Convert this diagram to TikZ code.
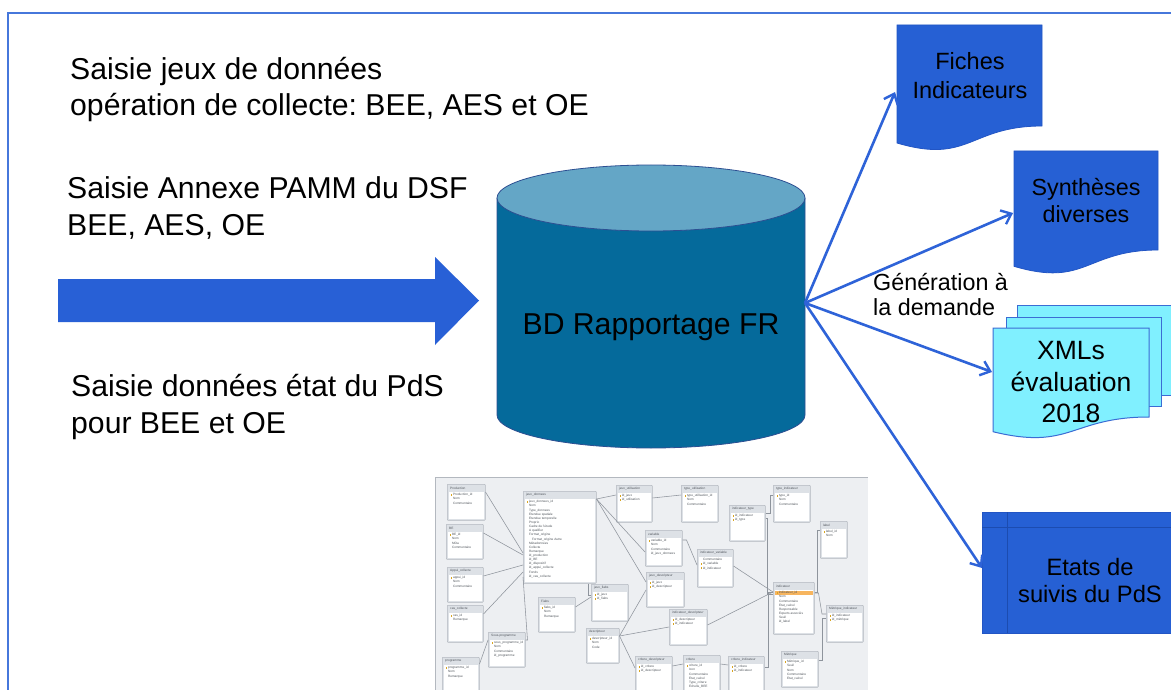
\documentclass[tikz,border=0pt]{standalone}
\usepackage{fontspec}
\setmainfont{Liberation Sans}
\usetikzlibrary{arrows.meta,calc}
\frenchspacing

\definecolor{frameblue}{HTML}{4677DB}
\definecolor{arrowblue}{HTML}{2860D6}
\definecolor{connblue}{HTML}{2E63D8}
\definecolor{docblue}{HTML}{2660D4}
\definecolor{docedge}{HTML}{2255C4}
\definecolor{storeline}{HTML}{1C4CB0}
\definecolor{xmlcyan}{HTML}{80F0FF}
\definecolor{xmledge}{HTML}{3B6CD4}
\definecolor{dbbody}{HTML}{056A9B}
\definecolor{dbtop}{HTML}{64A6C6}
\definecolor{dbedge}{HTML}{2D4F92}
\definecolor{schemabg}{HTML}{EDEFF2}
\definecolor{tabframe}{HTML}{DDE1E6}
\definecolor{tabedge}{HTML}{B3B8BF}
\definecolor{tabtext}{HTML}{50555C}
\definecolor{keyc}{HTML}{D9A520}
\definecolor{hlorange}{HTML}{F7B55E}
\definecolor{relline}{HTML}{8E949C}

\newcommand\bigtxt{\fontsize{30.3}{36.5}\selectfont}
\newcommand\dbf{\fontsize{3.2}{4.15}\selectfont}
\newcommand\pkey{\textcolor{keyc}{\rule{1.1bp}{2.3bp}}\kern0.7bp}
\newcommand\nk{\kern1.8bp}

% one table of the relational schema: frame, white body and title
\newcommand\dbtable[6]{%
  \node[tab, anchor=north west, minimum width={(#4-#2)*1bp}, minimum height={(#5-#3)*1bp}] (#1) at (#2,#3) {};
  \fill[white] ($(#1.north west)+(2,8)$) rectangle ($(#1.south east)+(-2,-2)$);
  \node[tabtitle, anchor=west] at ($(#1.north west)+(3,4)$) {#6};
}
\newcommand\dbrows[2]{%
  \node[tabrows, anchor=north west] at ($(#1.north west)+(4,9.3)$) {#2};
}

\tikzset{
  tab/.style={draw=tabedge, fill=tabframe, line width=0.5bp, inner sep=0, rounded corners=0.8bp},
  tabtitle/.style={font=\dbf, text=tabtext, inner sep=0},
  tabrows/.style={font=\dbf, text=tabtext, inner sep=0, align=left},
  rel/.style={draw=relline, line width=0.55bp},
  conn/.style={draw=connblue, line width=2.6bp,
    -{Straight Barb[length=9bp, width=15bp, line width=2.4bp]}},
  docfill/.style={fill=docblue, draw=docedge, line width=0.8bp},
  xmlpage/.style={fill=xmlcyan, draw=xmledge, line width=1bp},
  label/.style={inner sep=0, text=black},
}

\begin{document}
\begin{tikzpicture}[x=1bp, y=-1bp]
\useasboundingbox (0,0) rectangle (1171,690);
\clip (0,0) rectangle (1171,690);
\fill[white] (0,0) rectangle (1171,690);

% outer frame
\draw[frameblue, line width=2bp] (8,720) -- (8,13) -- (1200,13);

% input texts (anchored on the baseline of their last line)
\node[label, font=\bigtxt, align=left, anchor=base west] (inJeux) at (70,116)
  {Saisie jeux de données\\opération de collecte: BEE, AES et OE};
\node[label, font=\bigtxt, align=left, anchor=base west] (inPamm) at (67,235)
  {Saisie Annexe PAMM du DSF\\BEE, AES, OE};
\node[label, font=\bigtxt, align=left, anchor=base west] (inPds) at (71,433)
  {Saisie données état du PdS\\pour BEE et OE};

% big input arrow
\fill[arrowblue] (58,279) -- (435,279) -- (435,257) -- (479,300.5) -- (435,345) -- (435,322) -- (58,322) -- cycle;

% database cylinder
\fill[dbbody] (497,198) -- (497,415) arc[start angle=180, end angle=360, x radius=154bp, y radius=33bp] -- (805,198) -- cycle;
\draw[dbedge, line width=0.8bp] (497,198) -- (497,415) arc[start angle=180, end angle=360, x radius=154bp, y radius=33bp] -- (805,198);
\filldraw[fill=dbtop, draw=dbedge, line width=0.8bp] (651,198) ellipse [x radius=154bp, y radius=33bp];
\node[label, font=\bigtxt, anchor=base] (db) at (651,334) {BD Rapportage FR};
\coordinate (dbR) at (805,303);

% output: Fiches Indicateurs
\path[docfill] (897,25) -- (1042,25) -- (1042,126) .. controls (969.5,126) and (969.5,164.5) .. (897,143) -- cycle;
\node[label, font=\fontsize{23.6}{29}\selectfont, align=center, anchor=base] (fiches) at (970,98.3) {Fiches\\Indicateurs};
\coordinate (fichesIn) at (895,92);

% output: Synthèses diverses
\path[docfill] (1014,151) -- (1158,151) -- (1158,250) .. controls (1086,250) and (1086,287.7) .. (1014,266.3) -- cycle;
\node[label, font=\fontsize{23.4}{27.7}\selectfont, align=center, anchor=base] (synth) at (1086,222.7) {Synthèses\\diverses};
\coordinate (synthIn) at (1013,213);

% output: XMLs (stack of pages)
\path[xmlpage] (1017,305) rectangle (1190,395);
\path[xmlpage] (1006,317) rectangle (1161,406);
\path[xmlpage] (993,328) -- (1149,328) -- (1149,417) .. controls (1071,417) and (1071,450.9) .. (993,431.7) -- cycle;
\node[label, font=\fontsize{26.6}{31.5}\selectfont, align=center, anchor=base] (xmls) at (1071,422.5) {XMLs\\évaluation\\2018};
\coordinate (xmlsIn) at (992,372);

% output: Etats de suivis du PdS
\path[docfill] (982,512) rectangle (1190,633);
\draw[storeline, line width=1bp] (982,527) -- (1190,527);
\draw[storeline, line width=1bp] (1007,512) -- (1007,633);
\node[label, font=\fontsize{23.8}{27.3}\selectfont, align=center, anchor=base] (etats) at (1090,602.3) {Etats de\\suivis du PdS};
\coordinate (etatsIn) at (982,568);

% generation label
\node[label, font=\fontsize{23.4}{25.5}\selectfont, align=left, anchor=base west] (gen) at (873,315.5) {Génération à\\la demande};

% generation connectors
\draw[conn] (dbR) -- (fichesIn);
\draw[conn] (dbR) -- (synthIn);
\draw[conn] (dbR) -- (xmlsIn);
\draw[conn] (dbR) -- (etatsIn);

% ---------- relational schema ----------
\fill[schemabg] (435,477) rectangle (868,700);
\draw[tabedge, line width=0.6bp] (435,700) -- (435,477) -- (868,477);

\dbtable{tProd}{447}{484}{485}{520}{Production}
\dbrows{tProd}{\pkey Production\_id\\\nk Nom\\\nk Commentaire}
\dbtable{tBE}{446}{524}{483}{559}{BE}
\dbrows{tBE}{\pkey BE\_id\\\nk Nom\\\nk MOa\\\nk Commentaire}
\dbtable{tAppui}{447}{567}{483}{602}{Appui\_collecte}
\dbrows{tAppui}{\pkey appui\_id\\\nk Nom\\\nk Commentaire}
\dbtable{tCas}{447}{605}{483}{642}{cas\_collecte}
\dbrows{tCas}{\pkey cas\_id\\\nk Remarque}
\dbtable{tProg}{442}{657}{479}{698}{programme}
\dbrows{tProg}{\pkey programme\_id\\\nk Nom\\\nk Remarque}
\dbtable{tSousProg}{488}{632}{525}{667}{Sous-programme}
\dbrows{tSousProg}{\pkey sous\_programme\_id\\\nk Nom\\\nk Commentaire\\\nk id\_programme}
\dbtable{tJeux}{523}{491}{596}{583}{jeux\_donnees}
\dbrows{tJeux}{\pkey jeux\_donnees\_id\\\nk Nom\\\nk Type\_donnees\\\nk Etendue spatiale\\\nk Etendue temporelle\\\nk Proprio\\\nk Cadre de l'étude\\\nk A qualifier\\\nk Format\_origine\\\nk\kern3bp Format\_origine Autre\\\nk Métadonnées\\\nk Collecte\\\nk Remarque\\\nk id\_production\\\nk id\_BE\\\nk id\_dispositif\\\nk id\_appui\_collecte\\\nk Fonds\\\nk id\_cas\_collecte}
\dbtable{tFiabs}{538}{597}{575}{632}{Fiabs}
\dbrows{tFiabs}{\pkey fiabs\_id\\\nk Nom\\\nk Remarque}
\dbtable{tJeuxFiabs}{591}{584}{628}{621}{jeux\_fiabs}
\dbrows{tJeuxFiabs}{\pkey id\_jeux\\\pkey id\_fiabs}
\dbtable{tDesc}{586}{628}{619}{663}{descripteur}
\dbrows{tDesc}{\pkey descripteur\_id\\\nk Nom\\\nk Code}
\dbtable{tJeuxUtil}{616}{485}{652}{522}{jeux\_utilisation}
\dbrows{tJeuxUtil}{\pkey id\_jeux\\\pkey id\_utilisation}
\dbtable{tTypeUtil}{681}{485}{718}{522}{type\_utilisation}
\dbrows{tTypeUtil}{\pkey type\_utilisation\_id\\\nk Nom\\\nk Commentaire}
\dbtable{tVar}{645}{530}{682}{566}{variable}
\dbrows{tVar}{\pkey variable\_id\\\nk Nom\\\nk Commentaire\\\nk id\_jeux\_donnees}
\dbtable{tJeuxDesc}{646}{572}{684}{607}{jeux\_descripteur}
\dbrows{tJeuxDesc}{\pkey id\_jeux\\\pkey id\_descripteur}
\dbtable{tIndVar}{697}{549}{733}{587}{indicateur\_variable}
\dbrows{tIndVar}{\nk Commentaire\\\pkey id\_variable\\\pkey id\_indicateur}
\dbtable{tIndDesc}{669}{609}{707}{645}{indicateur\_descripteur}
\dbrows{tIndDesc}{\pkey id\_descripteur\\\pkey id\_indicateur}
\dbtable{tIndType}{729}{505}{765}{541}{indicateur\_type}
\dbrows{tIndType}{\pkey id\_indicateur\\\pkey id\_type}
\dbtable{tTypeInd}{773}{485}{810}{522}{type\_indicateur}
\dbrows{tTypeInd}{\pkey type\_id\\\nk Nom\\\nk Commentaire}
\dbtable{tInd}{773}{582}{814}{634}{indicateur}
\fill[hlorange] ($(tInd.north west)+(2,8.8)$) rectangle ($(tInd.north east)+(-2,13.3)$);
\dbrows{tInd}{\pkey indicateur\_id\\\nk Nom\\\nk Commentaire\\\nk Etat\_calcul\\\nk Responsable\\\nk Experts associés\\\nk Seuil\\\nk id\_label}
\dbtable{tLabel}{820}{521}{847}{558}{label}
\dbrows{tLabel}{\pkey label\_id\\\nk Nom}
\dbtable{tMetInd}{826}{605}{863}{642}{Métrique\_indicateur}
\dbrows{tMetInd}{\pkey id\_indicateur\\\pkey id\_métrique}
\dbtable{tMet}{781}{651}{818}{687}{Métrique}
\dbrows{tMet}{\pkey Métrique\_id\\\nk Seuil\\\nk Nom\\\nk Commentaire\\\nk Etat\_calcul}
\dbtable{tCritDesc}{635}{656}{672}{698}{critere\_descripteur}
\dbrows{tCritDesc}{\pkey id\_critere\\\pkey id\_descripteur}
\dbtable{tCrit}{683}{655}{720}{698}{critere}
\dbrows{tCrit}{\pkey critere\_id\\\nk Icon\\\nk Commentaire\\\nk Etat\_calcul\\\nk Type\_critere\\\nk Echelle\_BEE}
\dbtable{tCritInd}{728}{656}{764}{698}{critere\_indicateur}
\dbrows{tCritInd}{\pkey id\_critere\\\pkey id\_indicateur}

% relations
\draw[rel] ($(tProd.north east)+(0,8)$) -- ($(tJeux.north west)+(0,62)$);
\draw[rel] ($(tBE.north east)+(0,9)$) -- ($(tJeux.north west)+(0,64)$);
\draw[rel] ($(tAppui.north east)+(0,9)$) -- ($(tJeux.north west)+(0,74)$);
\draw[rel] ($(tCas.north east)+(0,9)$) -- ($(tJeux.north west)+(0,81)$);
\draw[rel] ($(tSousProg.north east)+(0,8)$) -- ++(2,0) -- ($(tJeux.north west)+(0,86)$);
\draw[rel] ($(tProg.north east)+(0,7)$) -- ($(tSousProg.north west)+(0,8)$);
\draw[rel] ($(tJeux.north east)+(0,8)$) -- ($(tJeuxUtil.north west)+(0,10)$);
\draw[rel] ($(tJeux.north east)+(0,8)$) -- ($(tVar.north west)+(0,22)$);
\draw[rel] ($(tJeux.north east)+(0,8)$) -- ($(tJeuxDesc.north west)+(0,10)$);
\draw[rel] ($(tJeux.south east)+(-8,0)$) |- ($(tJeuxFiabs.north west)+(0,11)$);
\draw[rel] ($(tFiabs.north east)+(0,10)$) -- ($(tJeuxFiabs.north west)+(0,13)$);
\draw[rel] ($(tJeuxUtil.north east)+(0,13)$) -- ($(tTypeUtil.north west)+(0,10)$);
\draw[rel] ($(tVar.north east)+(0,10)$) -- ++(4,0) -- ($(tIndVar.north west)+(0,16)$);
\draw[rel] ($(tDesc.north east)+(0,8)$) -- ($(tJeuxDesc.north west)+(0,18)$);
\draw[rel] ($(tDesc.north east)+(0,8)$) -- ($(tIndDesc.north west)+(0,18)$);
\draw[rel] ($(tDesc.north east)+(0,8)$) -- ($(tCritDesc.north west)+(0,12)$);
\draw[rel] ($(tCritDesc.north east)+(0,10)$) -- ($(tCrit.north west)+(0,9)$);
\draw[rel] ($(tCrit.north east)+(0,9)$) -- ($(tCritInd.north west)+(0,9)$);
\draw[rel] ($(tCritInd.north east)+(0,11)$) -- ++(4,0) |- ($(tInd.north west)+(0,10)$);
\draw[rel] ($(tIndType.north east)+(0,8)$) -- ++(5,0) |- ($(tTypeInd.north west)+(0,10)$);
\draw[rel] ($(tIndType.north east)+(0,13)$) -- ++(2,0) |- ($(tInd.north west)+(0,12)$);
\draw[rel] ($(tIndVar.north east)+(0,17)$) -- ($(tInd.north west)+(0,10)$);
\draw[rel] ($(tIndDesc.north east)+(0,16)$) -- ($(tInd.north west)+(0,10)$);
\draw[rel] ($(tInd.north east)+(0,10)$) -- ++(3,0) |- ($(tLabel.north west)+(0,9)$);
\draw[rel] ($(tInd.north east)+(0,11)$) -- ++(4,0) -- ($(tMetInd.north west)+(-4,9)$) -- ($(tMetInd.north west)+(0,9)$);
\draw[rel] ($(tMet.north east)+(0,9)$) -- ++(4,0) |- ($(tMetInd.north west)+(0,13)$);
\end{tikzpicture}
\end{document}
